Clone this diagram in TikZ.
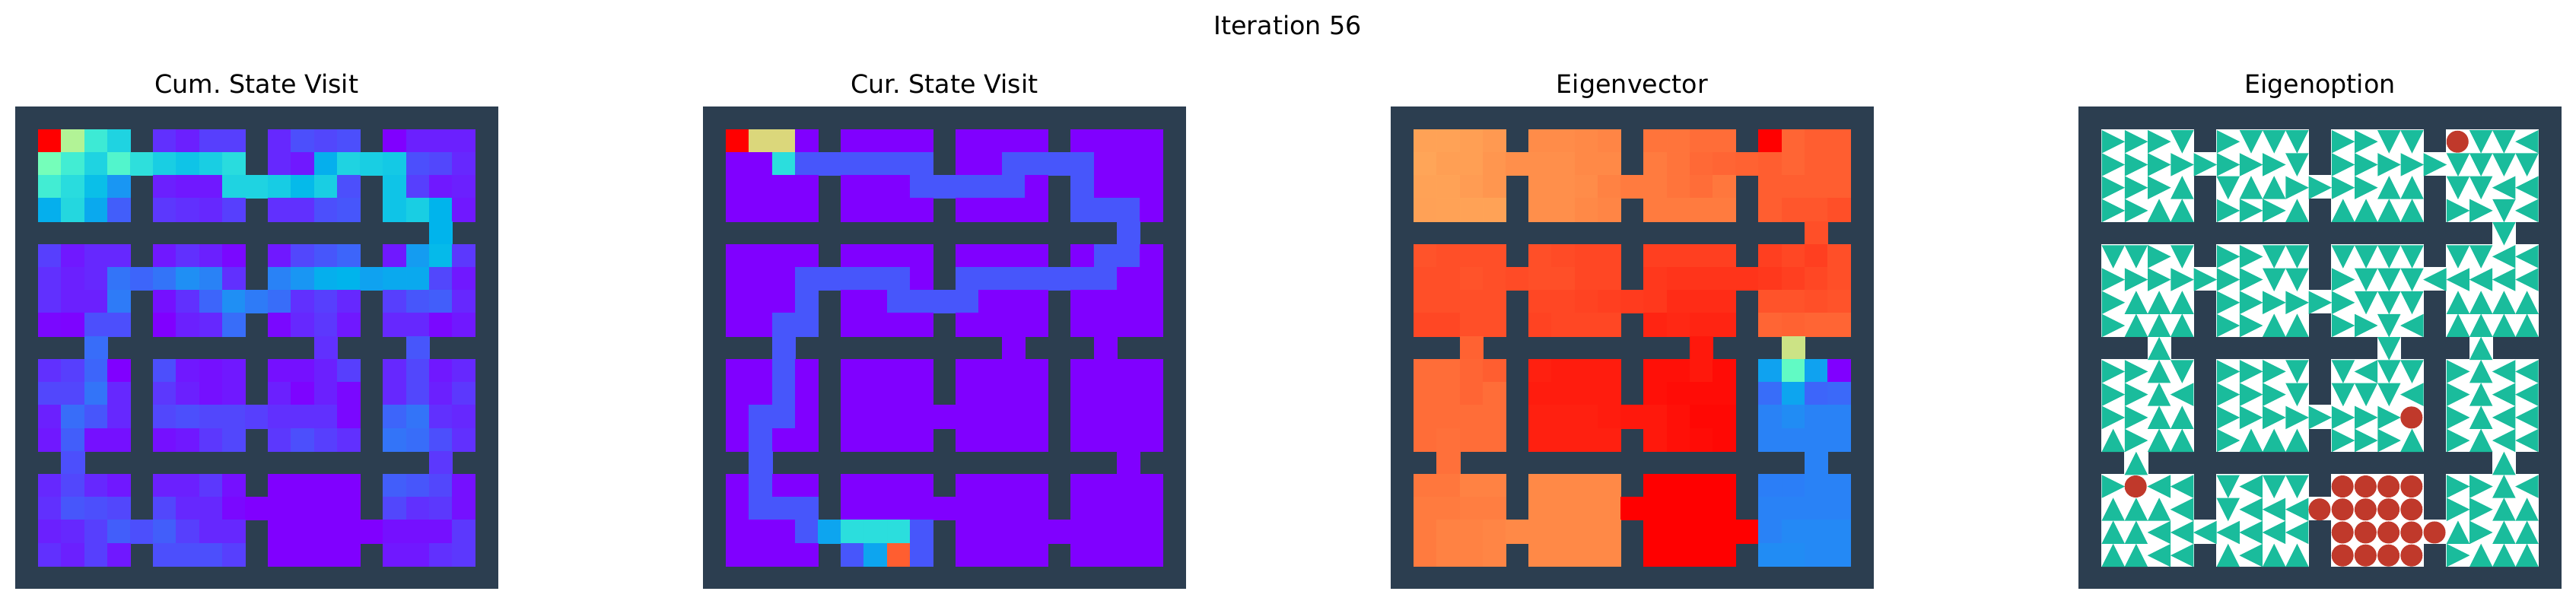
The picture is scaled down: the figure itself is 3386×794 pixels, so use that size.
\documentclass[tikz,border=0pt]{standalone}
\usepackage{fontspec}
\setmainfont{DejaVu Sans}
\frenchspacing
\definecolor{wallColor}{HTML}{2C3E50}
\definecolor{arrowColor}{HTML}{1ABC9C}
\definecolor{goalColor}{HTML}{C0392B}
\tikzset{
  wall/.style={fill=wallColor},
  title/.style={anchor=base,inner sep=0pt,text=black,font=\fontsize{33.33}{40}\selectfont},
  pointer/.style={fill=arrowColor},
  goal/.style={fill=goalColor}
}
\pgfmathsetmacro{\panelTop}{139.6}
\pgfmathsetmacro{\panelSize}{634.6}
\pgfmathsetmacro{\cellSize}{\panelSize/21}
\def\dirR{0}
\def\dirD{-90}
\def\dirL{180}
\def\dirU{90}
%rainbow colour map, values in percent
\newcommand{\heatPanel}[2]{
  \fill[wall] (#1,\panelTop) rectangle ++(\panelSize,\panelSize);
  \foreach \rowVals [count=\rowIdx] in {#2} {
    \foreach \val [count=\colIdx] in \rowVals {
      \if x\val\relax\else
        \pgfmathsetmacro{\redPart}{min(1,abs(0.02*\val-0.5))}
        \pgfmathsetmacro{\greenPart}{sin(1.8*\val)}
        \pgfmathsetmacro{\bluePart}{cos(0.9*\val)}
        \definecolor{cellColor}{rgb}{\redPart,\greenPart,\bluePart}
        \fill[cellColor,draw=cellColor,line width=0.3pt] (#1+\colIdx*\cellSize,\panelTop+\rowIdx*\cellSize) rectangle ++(\cellSize,\cellSize);
      \fi
    }
  }
}
%R D L U pointers, O goal
\newcommand{\optionPanel}[2]{
  \fill[wall] (#1,\panelTop) rectangle ++(\panelSize,\panelSize);
  \foreach \rowVals [count=\rowIdx] in {#2} {
    \foreach \val [count=\colIdx] in \rowVals {
      \if x\val\relax\else
        \fill[white,draw=white,line width=0.3pt] (#1+\colIdx*\cellSize,\panelTop+\rowIdx*\cellSize) rectangle ++(\cellSize,\cellSize);
      \fi
    }
  }
  \foreach \rowVals [count=\rowIdx] in {#2} {
    \foreach \val [count=\colIdx] in \rowVals {
      \if x\val\relax\else
        \pgfmathsetmacro{\midX}{#1+(\colIdx+0.5)*\cellSize}
        \pgfmathsetmacro{\midY}{\panelTop+(\rowIdx+0.5)*\cellSize+1.3}
        \if O\val\relax
          \fill[goal] (\midX-0.4,\midY) circle (14.5);
        \else
          \begin{scope}[shift={(\midX+0.3,\midY)},rotate=\csname dir\val\endcsname]
            \fill[pointer] (-15,-15.2) -- (15.4,0) -- (-15,15.2) -- cycle;
          \end{scope}
        \fi
      \fi
    }
  }
}
\begin{document}
\begin{tikzpicture}[x=1pt,y=-1pt]
  \useasboundingbox (0,0) rectangle (3386,794);
  %Titles
  \node[title] (iteration) at (1692.7,45.7) {Iteration 56};
  \node[title] (cumTitle) at (337.3,122.7) {Cum. State Visit};
  \node[title] (curTitle) at (1241.3,122.7) {Cur. State Visit};
  \node[title] (eigvecTitle) at (2145.3,122.7) {Eigenvector};
  \node[title] (eigoptTitle) at (3049.3,122.7) {Eigenoption};
  %Cum. State Visit
  \heatPanel{20}{
    {100,60,37,31,x,6,4,8,8,x,5,10,9,10,x,0,4,4,4},
    {48,38,31,41,34,30,28,30,33,x,5,3,24,31,30,29,10,9,5},
    {38,33,27,20,x,4,3,3,31,31,29.5,26,30,10,x,28,8,3,4},
    {24,32,23,12,x,7,6,5,8,x,6,6,10,11,x,28,30,25,3},
    {x,x,x,x,x,x,x,x,x,x,x,x,x,x,x,x,x,25,x},
    {8,3,5,5,x,3,6,4,1,x,3,9,11,13,x,3,21,26,7},
    {6,4,5,15,13,15,19,17,6,x,17,20,24,25,22,23,23,9,3},
    {6,4,4,16,x,2,6,13,19,16,14,6,8,5,x,8,11,12,5},
    {1,0.5,10,10,x,0,4,5,14,x,1,5,7,3,x,5,5,1,3},
    {x,x,14,x,x,x,x,x,x,x,x,x,6,x,x,x,11,x,x},
    {6,8,13,0,x,10,3,2,3,x,2,2,4,8,x,5,9,3,5},
    {9,9,15,5,x,7,4,2,3,x,4,0.5,4,1,x,5,9,4,7},
    {4,14,11,5,x,9,10,9,9,8,6,6,6,1,x,13,15,6,5},
    {3,12,2,2,x,2,3,7,9,x,7,10,8,6,x,15,14,10,6},
    {x,10,x,x,x,x,x,x,x,x,x,x,x,x,x,x,x,7,x},
    {5,9,5,3,x,4,4,7,2,x,0,0,0,0,x,12,11,9,2},
    {6,11,10,9,x,9,5,5,1,0,0,0,0,0,x,9,6,7,2},
    {4,5,8,12,10,12,8,5,5,x,0,0,0,0,0,2,2,2,7},
    {6,4,8,3,x,10,10,10,8,x,0,0,0,0,x,3,3,6,7}}
  %Cur. State Visit
  \heatPanel{924}{
    {100,68,68,0,x,0,0,0,0,x,0,0,0,0,x,0,0,0,0},
    {0,0,33.5,11,11,11,11,11,11,x,0,0,11,11,11,11,0,0,0},
    {0,0,0,0,x,0,0,0,11,11,11,11,11,0,x,11,0,0,0},
    {0,0,0,0,x,0,0,0,0,x,0,0,0,0,x,11,11,11,0},
    {x,x,x,x,x,x,x,x,x,x,x,x,x,x,x,x,x,11,x},
    {0,0,0,0,x,0,0,0,0,x,0,0,0,0,x,0,11,11,0},
    {0,0,0,11,11,11,11,11,0,x,11,11,11,11,11,11,11,0,0},
    {0,0,0,11,x,0,0,11,11,11,11,0,0,0,x,0,0,0,0},
    {0,0,11,11,x,0,0,0,0,x,0,0,0,0,x,0,0,0,0},
    {x,x,11,x,x,x,x,x,x,x,x,x,0,x,x,x,0,x,x},
    {0,0,11,0,x,0,0,0,0,x,0,0,0,0,x,0,0,0,0},
    {0,0,11,0,x,0,0,0,0,x,0,0,0,0,x,0,0,0,0},
    {0,11,11,0,x,0,0,0,0,0,0,0,0,0,x,0,0,0,0},
    {0,11,0,0,x,0,0,0,0,x,0,0,0,0,x,0,0,0,0},
    {x,11,x,x,x,x,x,x,x,x,x,x,x,x,x,x,x,0,x},
    {0,11,0,0,x,0,0,0,0,x,0,0,0,0,x,0,0,0,0},
    {0,11,11,11,x,0,0,0,0,0,0,0,0,0,x,0,0,0,0},
    {0,0,0,11,22.5,33.5,33.5,33.5,11,x,0,0,0,0,0,0,0,0,0},
    {0,0,0,0,x,11,22.5,88,11,x,0,0,0,0,x,0,0,0,0}}
  %Eigenvector
  \heatPanel{1828}{
    {78,78,78.5,79.5,x,81.5,81.5,82,82.5,x,85,85,86,86,x,100,87,88,88},
    {77.5,78.5,78.5,80,81,81,81,82,82,x,84,85,86.5,87,87.5,88,87,88,88},
    {78,78,79,80,x,81,81,81.5,83,84,84,85,86,84.5,x,88,88,88,88},
    {78.2,78,78,78,x,81,81,82,82.5,x,84,84,84,84,x,88,89,89,90},
    {x,x,x,x,x,x,x,x,x,x,x,x,x,x,x,x,x,90,x},
    {89.5,90,90,90,x,90,90.5,91,91,x,92,92,92,92,x,92,91,92,90},
    {90,90,89.5,90,90.5,90,90,91,91,x,93,93.5,93.5,93.5,93.5,93,92,91,90},
    {90,90,90,90,x,91,91,91.5,92,92.5,93,94.5,94.5,94.5,x,89.5,89.5,90,89.5},
    {91,91,90,90,x,91.5,91,91,91,x,95.5,95,95.5,95.5,x,87,87.5,87,87},
    {x,x,87.5,x,x,x,x,x,x,x,x,x,97,x,x,x,65,x,x},
    {86,86,87,88,x,96,96.5,96.5,96.5,x,98,98,97,98.5,x,22,44,22,0},
    {86,86,87,86,x,96.5,96.5,96.5,96.5,x,98,98.5,98.5,98.5,x,14,22.5,13,13.5},
    {86,86,86,86,x,96,96,96,96.5,97,97,98,99,99,x,17,18.5,17,17},
    {86,85.5,86,86,x,96,96,96,96,x,97,98,98.5,99,x,17,17,17,17},
    {x,85.5,x,x,x,x,x,x,x,x,x,x,x,x,x,x,x,17,x},
    {84.5,84.5,83,83,x,82,82,82,82,x,100,100,100,100,x,16.5,16.5,17,17},
    {84,84,83.5,83.5,x,82,82,82,82,100,100,100,100,100,x,17,17,17,17},
    {84,83,83,82.5,82,82,82,82,82,x,100,100,100,100,100,17,18,18,18},
    {84,83,83,82.5,x,82,82,82,82,x,100,100,100,100,x,18.5,18.5,18,18}}
  %Eigenoption
  \optionPanel{2732}{
    {R,R,R,D,x,R,D,D,D,x,R,R,D,D,x,O,D,D,L},
    {R,R,R,R,R,R,R,R,D,x,R,R,R,R,R,D,D,D,D},
    {R,R,R,U,x,D,U,U,R,R,R,R,U,U,x,D,D,L,L},
    {R,R,U,U,x,R,R,R,U,x,U,U,U,U,x,R,R,D,L},
    {x,x,x,x,x,x,x,x,x,x,x,x,x,x,x,x,x,D,x},
    {D,D,R,D,x,R,R,D,D,x,D,D,D,D,x,D,D,L,L},
    {R,R,R,R,R,R,R,D,D,x,R,D,D,D,L,L,L,L,L},
    {R,U,U,U,x,R,R,R,R,R,R,D,D,D,x,U,U,U,U},
    {R,U,U,U,x,R,R,U,U,x,R,R,D,L,x,U,U,U,U},
    {x,x,U,x,x,x,x,x,x,x,x,x,D,x,x,x,U,x,x},
    {R,R,U,D,x,R,R,R,D,x,D,L,D,D,x,R,U,L,L},
    {R,R,U,L,x,R,R,R,D,x,D,D,D,L,x,R,U,L,L},
    {R,R,U,U,x,R,R,R,R,R,R,R,R,O,x,R,U,L,L},
    {U,R,U,U,x,R,U,U,U,x,R,R,R,U,x,R,U,L,L},
    {x,U,x,x,x,x,x,x,x,x,x,x,x,x,x,x,x,U,x},
    {R,O,L,L,x,D,L,D,D,x,O,O,O,O,x,R,R,U,L},
    {U,U,U,L,x,D,L,L,L,O,O,O,O,O,x,R,R,U,U},
    {U,U,L,L,L,L,L,L,L,x,O,O,O,O,O,U,R,U,U},
    {U,U,L,L,x,U,L,U,U,x,O,O,O,O,x,R,U,U,U}}
\end{tikzpicture}
\end{document}
